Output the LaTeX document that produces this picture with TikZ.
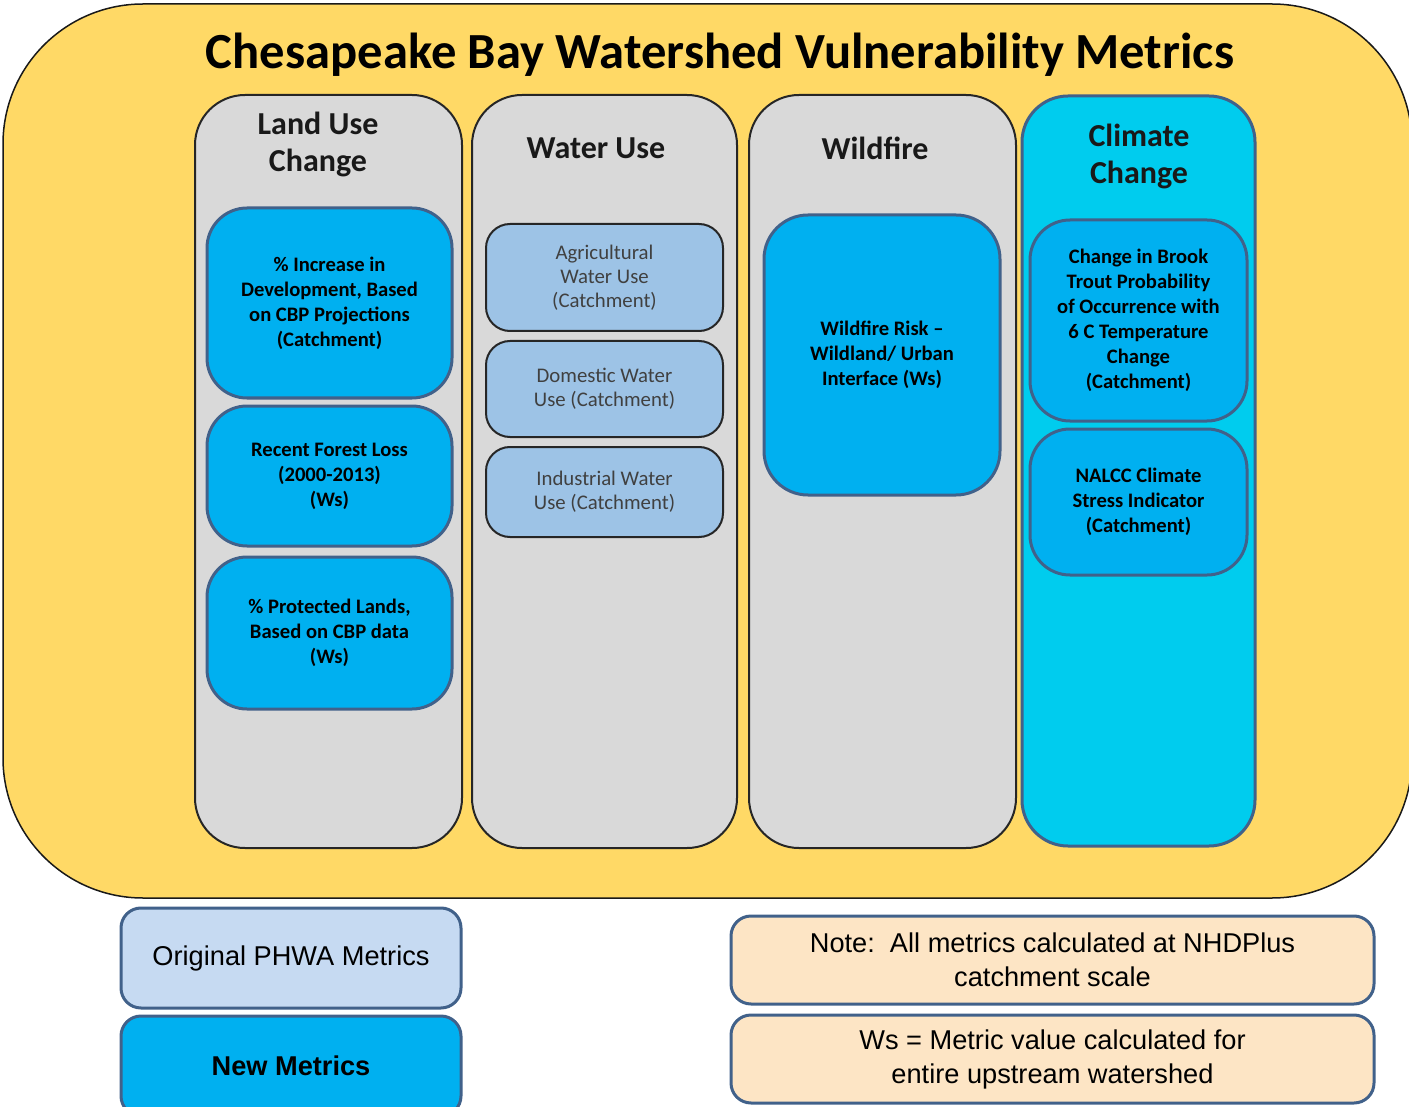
\documentclass[tikz,border=0pt]{standalone}
\usepackage{fontspec}
\setmainfont{Carlito}
\newfontfamily\arialfont{Liberation Sans}
\usepackage{xcolor}
\usepackage{tikz}
\usetikzlibrary{positioning}

\definecolor{baseyellow}{HTML}{FFD966}
\definecolor{colgray}{HTML}{D9D9D9}
\definecolor{climcyan}{HTML}{00CCEE}
\definecolor{newblue}{HTML}{00B0F0}
\definecolor{oldblue}{HTML}{9DC3E6}
\definecolor{legblue}{HTML}{C6DAF2}
\definecolor{notepeach}{HTML}{FDE5C5}
\definecolor{slateline}{HTML}{41618A}

\tikzset{
  column/.style={draw=black!85, line width=1pt, fill=colgray, rounded corners=25pt, minimum width=133.5pt, minimum height=376.5pt},
  header/.style={font=\fontsize{16}{18.5}\selectfont\bfseries, align=center, text=black!90},
  newbox/.style={draw=slateline, line width=1.5pt, fill=newblue, rounded corners=20pt, minimum width=122.5pt, align=center, font=\fontsize{10.3}{12.5}\selectfont\bfseries},
  oldbox/.style={draw=black!85, line width=1pt, fill=oldblue, rounded corners=12pt, minimum width=118.5pt, align=center, text=black!75, font=\fontsize{10.4}{12}\selectfont},
  legbox/.style={draw=slateline, line width=1.5pt, rounded corners=10pt, align=center, font=\arialfont\fontsize{13.6}{17}\selectfont}
}

\begin{document}
\begin{tikzpicture}[x=0.5pt, y=-0.5pt]
    \useasboundingbox (0,0) rectangle (1409,1107);

    % outer frame
    \node[draw=black!90, line width=0.75pt, fill=baseyellow, rounded corners=70pt,
          minimum width=704.5pt, minimum height=447pt] (frame) at (707.5,451) {};
    \node[font=\fontsize{25.3}{30}\selectfont\bfseries] (title) at (720,55) {Chesapeake Bay Watershed Vulnerability Metrics};

    % columns
    \node[column] (landuse) at (328.5,471.5) {};
    \node[column, minimum width=132.5pt] (wateruse) at (604.5,471.5) {};
    \node[column] (wildfire) at (882.5,471.5) {};
    \node[column, draw=slateline, line width=1.5pt, fill=climcyan, minimum width=116.5pt, minimum height=375pt, rounded corners=23pt] (climate) at (1138.5,471) {};

    \node[header] (landhead) at (318,144) {Land Use\\Change};
    \node[header] (waterhead) at (596,148) {Water Use};
    \node[header] (firehead) at (875,148) {Wildfire};
    \node[header] (climhead) at (1139,156) {Climate\\Change};

    % land use change
    \node[newbox, minimum height=95pt] (dev) at (329.5,303) {\% Increase in\\Development, Based\\on CBP Projections\\(Catchment)};
    \node[newbox, minimum height=70pt] (forest) [below=2.5pt of dev] {Recent Forest Loss\\(2000-2013)\\(Ws)};
    \node[newbox, minimum height=76pt] (protected) [below=4pt of forest] {\% Protected Lands,\\Based on CBP data\\(Ws)};

    % water use
    \node[oldbox, minimum height=53.5pt] (agri) at (604.5,277.5) {Agricultural\\Water Use\\(Catchment)};
    \node[oldbox, minimum height=48pt] (domestic) [below=4pt of agri] {Domestic Water\\Use (Catchment)};
    \node[oldbox, minimum height=45pt] (industrial) [below=4pt of domestic] {Industrial Water\\Use (Catchment)};

    % wildfire
    \node[newbox, minimum width=118pt, minimum height=140pt, rounded corners=22pt] (wui) at (882,355) {Wildfire Risk --\\Wildland/ Urban\\Interface (Ws)};

    % climate change
    \node[newbox, minimum width=108.5pt, minimum height=100.5pt] (trout) at (1138.5,320.5) {Change in Brook\\Trout Probability\\of Occurrence with\\6 C Temperature\\Change\\(Catchment)};
    \node[newbox, minimum width=108.5pt, minimum height=73pt] (nalcc) [below=2.5pt of trout] {NALCC Climate\\Stress Indicator\\(Catchment)};

    % legend
    \node[legbox, fill=legblue, minimum width=170pt, minimum height=50pt] (orig) at (291,958) {Original PHWA Metrics};
    \node[legbox, fill=newblue, minimum width=170pt, minimum height=50pt, font=\arialfont\fontsize{13.6}{17}\selectfont\bfseries] (newm) at (291,1066) {New Metrics};
    \node[legbox, fill=notepeach, minimum width=321.5pt, minimum height=44pt] (note) at (1052.5,960) {Note:\ \ All metrics calculated at NHDPlus\\catchment scale};
    \node[legbox, fill=notepeach, minimum width=321.5pt, minimum height=44pt] (ws) at (1052.5,1059) {Ws = Metric value calculated for\\entire upstream watershed};
\end{tikzpicture}
\end{document}
